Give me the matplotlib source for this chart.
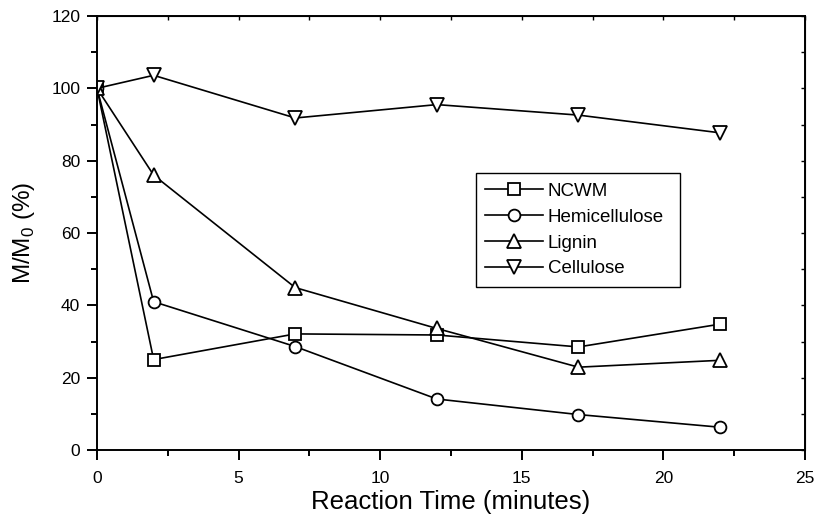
import matplotlib
matplotlib.use('Agg')
import matplotlib.pyplot as plt
from matplotlib.ticker import MultipleLocator

plt.rcParams['font.family'] = ['Liberation Sans', 'DejaVu Sans']
plt.rcParams['mathtext.fontset'] = 'custom'
plt.rcParams['mathtext.rm'] = 'Liberation Sans'

# Reaction time (minutes)
time = [0, 2, 7, 12, 17, 22]

# M/M0 (%) for each component
ncwm = [100, 25, 32.1, 31.8, 28.5, 34.8]
hemicellulose = [100, 41, 28.6, 14.1, 9.8, 6.3]
lignin = [100, 76, 44.9, 33.6, 22.9, 24.8]
cellulose = [100, 103.6, 91.8, 95.5, 92.6, 87.7]

labels = ['NCWM', 'Hemicellulose', 'Lignin', 'Cellulose']
markers = ['s', 'o', '^', 'v']

fig = plt.figure(figsize=(8.17, 5.15), dpi=100)
ax = fig.add_axes([97 / 817, 1 - 450 / 515, 708 / 817, 434 / 515])

for series, label, m in zip([ncwm, hemicellulose, lignin, cellulose], labels, markers):
    ms = 10.5 if m in ('^', 'v') else 8.5
    ax.plot(time, series, color='black', linewidth=1.2, marker=m, markersize=ms,
            markerfacecolor='white', markeredgecolor='black', markeredgewidth=1.3,
            label=label)

ax.set_xlim(0, 25)
ax.set_ylim(0, 120)
ax.xaxis.set_major_locator(MultipleLocator(5))
ax.xaxis.set_minor_locator(MultipleLocator(2.5))
ax.yaxis.set_major_locator(MultipleLocator(20))
ax.yaxis.set_minor_locator(MultipleLocator(10))

for s in ax.spines.values():
    s.set_linewidth(1.4)

ax.tick_params(axis='both', which='major', direction='out', length=7, width=1.4,
               labelsize=12.5, top=False, right=False)
ax.tick_params(axis='both', which='minor', direction='out', length=4.5, width=1.4,
               top=False, right=False)
ax.tick_params(axis='x', which='major', pad=8)
ax.tick_params(axis='y', which='major', pad=5)

# short inward ticks on the top and right spines
sec_x = ax.secondary_xaxis('top')
sec_x.xaxis.set_major_locator(MultipleLocator(2.5))
sec_x.tick_params(direction='in', length=3, width=1, labeltop=False)
sec_x.set_xticklabels([])
sec_y = ax.secondary_yaxis('right')
sec_y.yaxis.set_major_locator(MultipleLocator(10))
sec_y.tick_params(direction='in', length=3, width=1, labelright=False)
sec_y.set_yticklabels([])

ax.set_xlabel('Reaction Time (minutes)', fontsize=18.5, labelpad=3)
ax.set_ylabel(r'M/M$_\mathregular{0}$ (%)', fontsize=17.5, labelpad=10)

leg = ax.legend(loc='lower left', bbox_to_anchor=(0.535, 0.376, 0.289, 0.26),
                mode='expand', fontsize=13.5, frameon=True, fancybox=False,
                edgecolor='black', framealpha=1, handlelength=3.1,
                handletextpad=0.25, borderpad=0.5, labelspacing=0.47,
                markerscale=1.0, borderaxespad=0)
leg.get_frame().set_linewidth(1.0)

fig.savefig('out.png', dpi=100)
